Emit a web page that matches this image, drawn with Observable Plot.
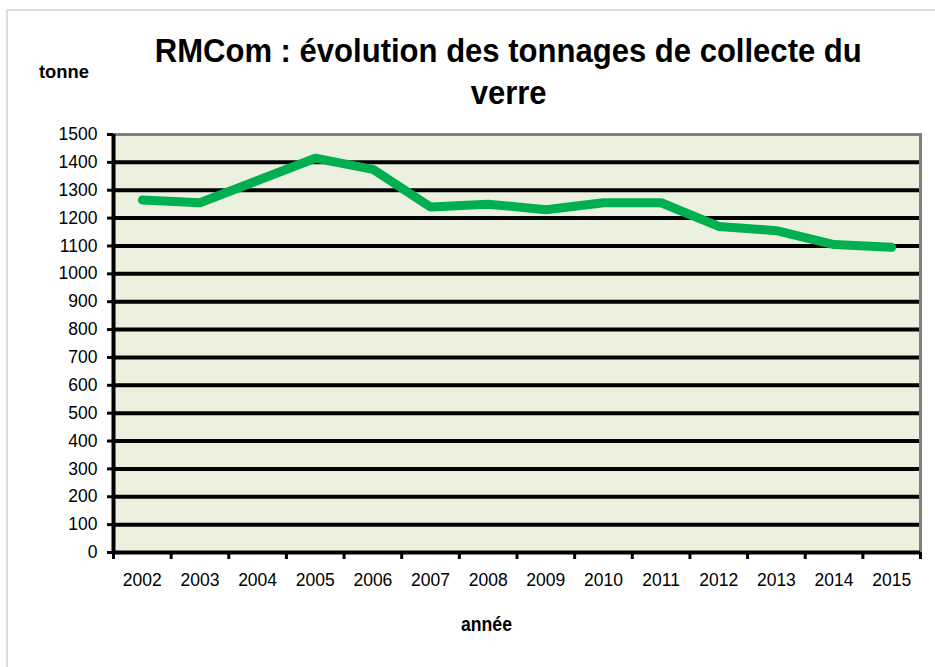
<!DOCTYPE html>
<html><head><meta charset="utf-8">
<script src="https://cdn.jsdelivr.net/npm/d3@7"></script>
<script src="https://cdn.jsdelivr.net/npm/@observablehq/plot@0.6"></script>
<style>
body{margin:0;background:#fff;font-family:"Liberation Sans",Arial,sans-serif;}
#wrap{position:relative;width:935px;height:667px;overflow:hidden;background:#fff;}
#border{position:absolute;left:6px;top:9px;width:960px;height:700px;border:2px solid #D9DEE8;box-sizing:border-box;}
#chart{position:absolute;left:0;top:0;}
.lbl{position:absolute;white-space:nowrap;font-weight:bold;color:#000;}
.title{font-size:34px;line-height:42px;left:41px;width:935px;text-align:center;}
.title span{display:inline-block;}
</style></head>
<body>
<div id="wrap">
  <div id="border"></div>
  <div id="chart"></div>
  <div class="lbl title" style="top:29px"><span id="t1">RMCom : évolution des tonnages de collecte du</span></div>
  <div class="lbl title" style="top:71px"><span id="t2">verre</span></div>
  <div class="lbl" id="tonne" style="font-size:19px;left:39px;top:61px;line-height:22px">tonne</div>
  <div class="lbl" id="annee" style="font-size:20px;left:461px;top:613px;line-height:22px">année</div>
</div>
<script>
const years = [2002,2003,2004,2005,2006,2007,2008,2009,2010,2011,2012,2013,2014,2015];
const tonnes = [1265,1255,1335,1415,1375,1240,1250,1230,1255,1255,1170,1155,1105,1095];
const yTicks = [0,100,200,300,400,500,600,700,800,900,1000,1100,1200,1300,1400,1500];
const gridLines = [100,200,300,400,500,600,700,800,900,1000,1100,1200,1300,1400];
const yearBounds = [2001.5,2002.5,2003.5,2004.5,2005.5,2006.5,2007.5,2008.5,2009.5,2010.5,2011.5,2012.5,2013.5,2014.5,2015.5];

const data = years.map((y, i) => ({year: y, tonne: tonnes[i]}));

const chart = Plot.plot({
  width: 935, height: 600,
  marginLeft: 113, marginRight: 15, marginTop: 134, marginBottom: 48,
  x: {type: "linear", domain: [2001.5, 2015.5]},
  y: {domain: [0, 1500]},
  style: {fontFamily: "'Liberation Sans', Arial, sans-serif", fontSize: "17px", color: "#000", background: "transparent"},
  marks: [
    Plot.frame({fill: "#EBF0DF"}),
    Plot.ruleY(gridLines, {stroke: "#000", strokeWidth: 4}),
    Plot.frame({stroke: "#7F7F7F", strokeWidth: 3}),
    Plot.ruleY([0], {stroke: "#000", strokeWidth: 4}),
    Plot.ruleX([2001.5], {stroke: "#000", strokeWidth: 4}),
    Plot.axisY({ticks: yTicks, tickSize: 6, tickPadding: 10, strokeWidth: 3, tickFormat: d => String(d), label: null, fontSize: 17.5}),
    Plot.axisX({ticks: yearBounds, tickSize: 7, tickFormat: () => "", strokeWidth: 3, label: null}),
    Plot.axisX({ticks: years, tickSize: 0, tickPadding: 21, tickFormat: d => String(d), label: null, fontSize: 17.5}),
    Plot.line(data, {x: "year", y: "tonne", stroke: "#00B050", strokeWidth: 9, strokeLinecap: "round", strokeLinejoin: "round"})
  ]
});
document.getElementById("chart").appendChild(chart);

// Condense title text horizontally to match the reference
const t1 = document.getElementById("t1");
const s = 707 / t1.getBoundingClientRect().width;
for (const id of ["t1", "t2"]) {
  const el = document.getElementById(id);
  el.style.transform = `scaleX(${s})`;
  el.style.transformOrigin = "center";
}
function fit(id, w) {
  const el = document.getElementById(id);
  const k = w / el.getBoundingClientRect().width;
  el.style.transform = `scaleX(${k})`;
  el.style.transformOrigin = "left";
}
fit("tonne", 50);
fit("annee", 51);
</script>
</body></html>
